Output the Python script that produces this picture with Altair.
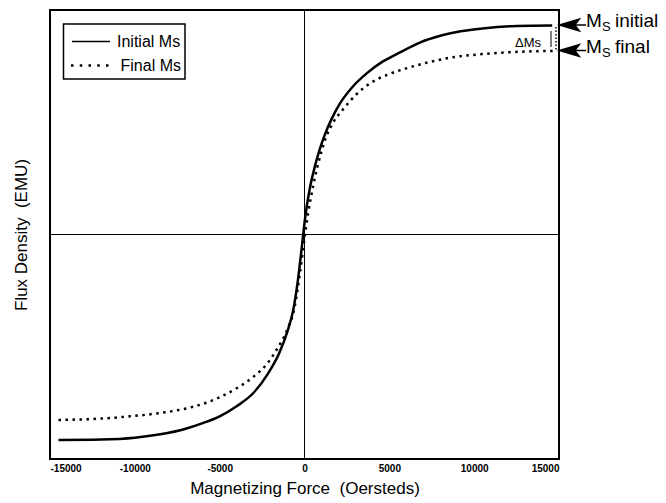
import altair as alt
import pandas as pd

# ---- data ----
initial_H = [-14500, -12000, -10000, -8500, -7000, -6000, -5000, -4000, -3000, -2200,
             -1500, -1000, -660, -365, -165, 30, 300, 600, 900, 1200, 1600, 2100, 2800,
             3700, 4600, 5600, 6800, 8000, 9200, 10500, 12500, 14600]
initial_M = [-0.915, -0.913, -0.905, -0.89, -0.865, -0.84, -0.81, -0.765, -0.705, -0.625,
             -0.53, -0.43, -0.335, -0.19, -0.06, 0.07, 0.20, 0.30, 0.38, 0.445, 0.515, 0.585, 0.655,
             0.72, 0.77, 0.81, 0.855, 0.885, 0.905, 0.918, 0.929, 0.931]

final_H = [-14500, -12000, -10300, -8500, -7300, -6000, -5000, -4000, -3000, -2200,
           -1700, -1000, -600, -265, 30, 225, 520, 1000, 1300, 1700, 2300, 3000, 3900,
           5000, 6000, 7200, 8400, 10700, 13000, 14700]
final_M = [-0.826, -0.82, -0.81, -0.795, -0.78, -0.755, -0.725, -0.685, -0.633, -0.575,
           -0.52, -0.42, -0.33, -0.17, 0.0, 0.10, 0.22, 0.37, 0.44, 0.50, 0.56, 0.62, 0.675,
           0.715, 0.74, 0.765, 0.785, 0.805, 0.815, 0.818]

x_ticks = [-15000, -10000, -5000, 0, 5000, 10000, 15000]
series_names = ["Initial Ms", "Final Ms"]

FONT = "Liberation Sans"
W, H = 509, 449

df_i = pd.DataFrame({"H": initial_H, "M": initial_M})
df_f = pd.DataFrame({"H": final_H, "M": final_M})
one = pd.DataFrame({"a": [0]})

xs = alt.Scale(domain=[-15000, 15000], nice=False, zero=False)
ys = alt.Scale(domain=[-1, 1], nice=False)

xenc = alt.X("H:Q", scale=xs, axis=alt.Axis(
    values=x_ticks, labelExpr="'' + datum.value", grid=False, ticks=False, domain=False,
    labelFont=FONT, labelFontSize=10, labelFontWeight="bold", labelColor="black",
    labelPadding=4, title="Magnetizing Force \u00a0(Oersteds)", titleFont=FONT,
    titleFontSize=17, titleFontWeight="normal", titleColor="black", titlePadding=7))
yenc = alt.Y("M:Q", scale=ys, axis=alt.Axis(
    labels=False, ticks=False, domain=False, grid=False,
    title="Flux Density \u00a0(EMU)", titleFont=FONT, titleFontSize=17,
    titleFontWeight="normal", titleColor="black", titlePadding=20))

solid = alt.Chart(df_i).mark_line(color="black", strokeWidth=2.5, interpolate="monotone").encode(x=xenc, y=yenc)
dotted = alt.Chart(df_f).mark_line(color="black", strokeWidth=2.5, strokeDash=[2.5, 4.5],
                                   interpolate="monotone").encode(x=xenc, y=yenc)

vzero = alt.Chart(pd.DataFrame({"H": [0]})).mark_rule(color="black", strokeWidth=1).encode(x=xenc)
hzero = alt.Chart(pd.DataFrame({"M": [0]})).mark_rule(color="black", strokeWidth=1).encode(y=yenc)

# legend (decoration)
box = alt.Chart(one).mark_rect(fill="white", stroke="black", strokeWidth=1.5).encode(
    x=alt.value(13.5), x2=alt.value(135), y=alt.value(14), y2=alt.value(69))
leg_solid = alt.Chart(one).mark_rule(color="black", strokeWidth=1.5).encode(
    x=alt.value(22), x2=alt.value(60), y=alt.value(31.5))
leg_dot = alt.Chart(one).mark_rule(color="black", strokeWidth=2.5, strokeDash=[2.5, 6.25]).encode(
    x=alt.value(21), x2=alt.value(59), y=alt.value(55.5))
leg_t1 = alt.Chart(one).mark_text(align="left", baseline="alphabetic", font=FONT, fontSize=16,
                                  color="black", text=series_names[0]).encode(x=alt.value(67), y=alt.value(37))
leg_t2 = alt.Chart(one).mark_text(align="left", baseline="alphabetic", font=FONT, fontSize=16,
                                  color="black", text=series_names[1]).encode(x=alt.value(70.5), y=alt.value(61))

# annotations
arrow_path = "M-1,0L1,-0.6L0.55,0L1,0.6Z"
def arrow(yp):
    shaft = alt.Chart(one).mark_rule(color="black", strokeWidth=1.5).encode(
        x=alt.value(524), x2=alt.value(536), y=alt.value(yp))
    head = alt.Chart(one).mark_point(shape=arrow_path, filled=True, size=600, color="black",
                                     opacity=1, strokeWidth=0).encode(x=alt.value(519), y=alt.value(yp))
    return shaft + head

def ms_label(yb, word):
    m = alt.Chart(one).mark_text(align="left", baseline="alphabetic", font=FONT, fontSize=19,
                                 color="black", text="M").encode(x=alt.value(536), y=alt.value(yb))
    s = alt.Chart(one).mark_text(align="left", baseline="alphabetic", font=FONT, fontSize=13,
                                 color="black", text="S").encode(x=alt.value(552), y=alt.value(yb + 4))
    w = alt.Chart(one).mark_text(align="left", baseline="alphabetic", font=FONT, fontSize=19,
                                 color="black", text=word).encode(x=alt.value(565), y=alt.value(yb))
    return m + s + w

dms = alt.Chart(one).mark_text(align="left", baseline="alphabetic", font=FONT, fontSize=13,
                               color="black", text="\u0394Ms").encode(x=alt.value(465), y=alt.value(36.5))
dbar = alt.Chart(one).mark_rule(color="black", strokeWidth=1).encode(
    x=alt.value(501), y=alt.value(21), y2=alt.value(37))
ddot = alt.Chart(one).mark_rule(color="black", strokeWidth=1.5, strokeDash=[1.5, 2]).encode(
    x=alt.value(506), y=alt.value(17), y2=alt.value(41))

chart = alt.layer(
    vzero, hzero, solid, dotted,
    box, leg_solid, leg_dot, leg_t1, leg_t2,
    arrow(15), arrow(40.5), ms_label(17, "initial"), ms_label(43, "final"),
    dms, dbar, ddot,
).properties(
    width=W, height=H,
    autosize=alt.AutoSizeParams(type="none"),
    padding={"left": 50, "top": 10, "right": 107, "bottom": 44},
    background="white",
).configure_view(stroke="black", strokeWidth=2)

chart.save("out.html", embed_options={"renderer": "svg", "actions": False})
